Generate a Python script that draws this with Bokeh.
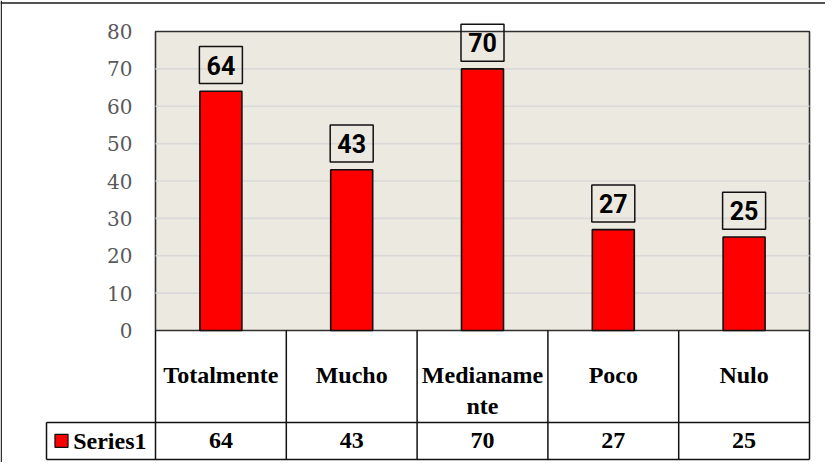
from bokeh.plotting import figure
from bokeh.models import LinearAxis, FixedTicker, BoxAnnotation, Range1d, Span
from bokeh.core.properties import value
from bokeh.embed import file_html
from bokeh.resources import INLINE

# ---- data ----
categories = ["Totalmente", "Mucho", "Medianamente", "Poco", "Nulo"]
category_labels = ["Totalmente", "Mucho", "Medianame\nnte", "Poco", "Nulo"]
values = [64, 43, 70, 27, 25]
series_name = "Series1"
y_ticks = [0, 10, 20, 30, 40, 50, 60, 70, 80]

# ---- layout (canvas pixels) ----
W, H = 825, 462
PLOT_L, PLOT_R, PLOT_T, PLOT_B = 155, 809, 31, 330
HEAD_B = 422
VAL_B = 459
LEG_L = 46

n = len(categories)
cw = (PLOT_R - PLOT_L) / n
y_min, y_max = y_ticks[0], y_ticks[-1]
py = (PLOT_B - PLOT_T) / (y_max - y_min)

x0 = -0.5 - PLOT_L / cw
x1 = x0 + W / cw
yb = y_min - (H - PLOT_B) / py
yt = y_max + PLOT_T / py


def ypx(px):
    return y_min - (px - PLOT_B) / py


def xpx(px):
    return -0.5 + (px - PLOT_L) / cw


xs = list(range(n))
left_edge, right_edge = -0.5, n - 0.5

p = figure(width=W, height=H, x_range=Range1d(x0, x1), y_range=Range1d(yb, yt),
           output_backend="svg", toolbar_location=None,
           x_axis_location=None, y_axis_location=None, min_border=0,
           background_fill_color="white", border_fill_color="white",
           outline_line_color=None)
for g in p.grid:
    g.visible = False

# outer chart frame (left and top)
p.add_layout(Span(location=x0 + 0.75 / cw, dimension="height", line_color="#1a1a1a", line_width=1.3))
p.add_layout(Span(location=yt - 2.5 / py, dimension="width", line_color="#1a1a1a", line_width=1.3))

# plot area
p.add_layout(BoxAnnotation(left=left_edge, right=right_edge, bottom=y_min, top=y_max,
                           fill_color="#ECE9E0", fill_alpha=1.0,
                           line_color="#303030", line_alpha=1.0, line_width=1.6,
                           level="underlay"))
grid_vals = y_ticks[1:-1]
p.segment(x0=[left_edge] * len(grid_vals), x1=[right_edge] * len(grid_vals),
          y0=grid_vals, y1=grid_vals, line_color="#D9D9D9", line_width=1.6)

# bars
p.vbar(x=xs, top=values, bottom=0, width=42 / cw, fill_color="#FF0000",
       line_color="#111111", line_width=1.6)

# data labels
label_y = [v + 26.2 / py for v in values]
p.rect(x=xs, y=label_y, width=43, height=37, width_units="screen", height_units="screen",
       fill_color=None, line_color="#111111", line_width=1.5)
p.text(x=xs, y=label_y, text=[str(v) for v in values], text_font=value("Roboto"),
       text_font_style="bold", text_font_size="25px", text_align="center",
       text_baseline="middle", text_color="black")

# y axis
yax = LinearAxis(fixed_location=left_edge, ticker=FixedTicker(ticks=y_ticks),
                 axis_line_color=None, major_tick_line_color=None, minor_tick_line_color=None,
                 major_tick_in=0, major_tick_out=0, major_label_standoff=23,
                 major_label_text_font="DejaVu Serif", major_label_text_font_size="20px",
                 major_label_text_color="#595959")
p.add_layout(yax, "left")

# data table
yh = ypx(HEAD_B)
yv = ypx(VAL_B)
xl = xpx(LEG_L)
vx = [left_edge + k for k in range(n + 1)]
p.segment(x0=vx, x1=vx, y0=[y_min] * len(vx), y1=[yv] * len(vx), line_color="#111111", line_width=1.5)
p.segment(x0=[xl, xl, xl], x1=[xl, right_edge, right_edge], y0=[yh, yh, yv], y1=[yv, yh, yv],
          line_color="#111111", line_width=1.5)

p.text(x=xs, y=[ypx(HEAD_B - 92 + 31)] * n, text=category_labels,
       text_font=value("Liberation Serif"), text_font_style="bold", text_font_size="24px",
       text_align="center", text_baseline="top", text_color="black", text_line_height=1.2)
p.text(x=xs, y=[ypx(439.5)] * n, text=[str(v) for v in values],
       text_font=value("Liberation Serif"), text_font_style="bold", text_font_size="24px",
       text_align="center", text_baseline="middle", text_color="black")

# legend key inside table
p.rect(x=[xpx(61)], y=[ypx(440.3)], width=13, height=13, width_units="screen", height_units="screen",
       fill_color="#FF0000", line_color="#111111", line_width=1.3)
p.text(x=[xpx(72.7)], y=[ypx(440)], text=[series_name],
       text_font=value("Liberation Serif"), text_font_style="bold", text_font_size="24px",
       text_align="left", text_baseline="middle", text_color="black")

open("out.html", "w").write(file_html(p, INLINE))
